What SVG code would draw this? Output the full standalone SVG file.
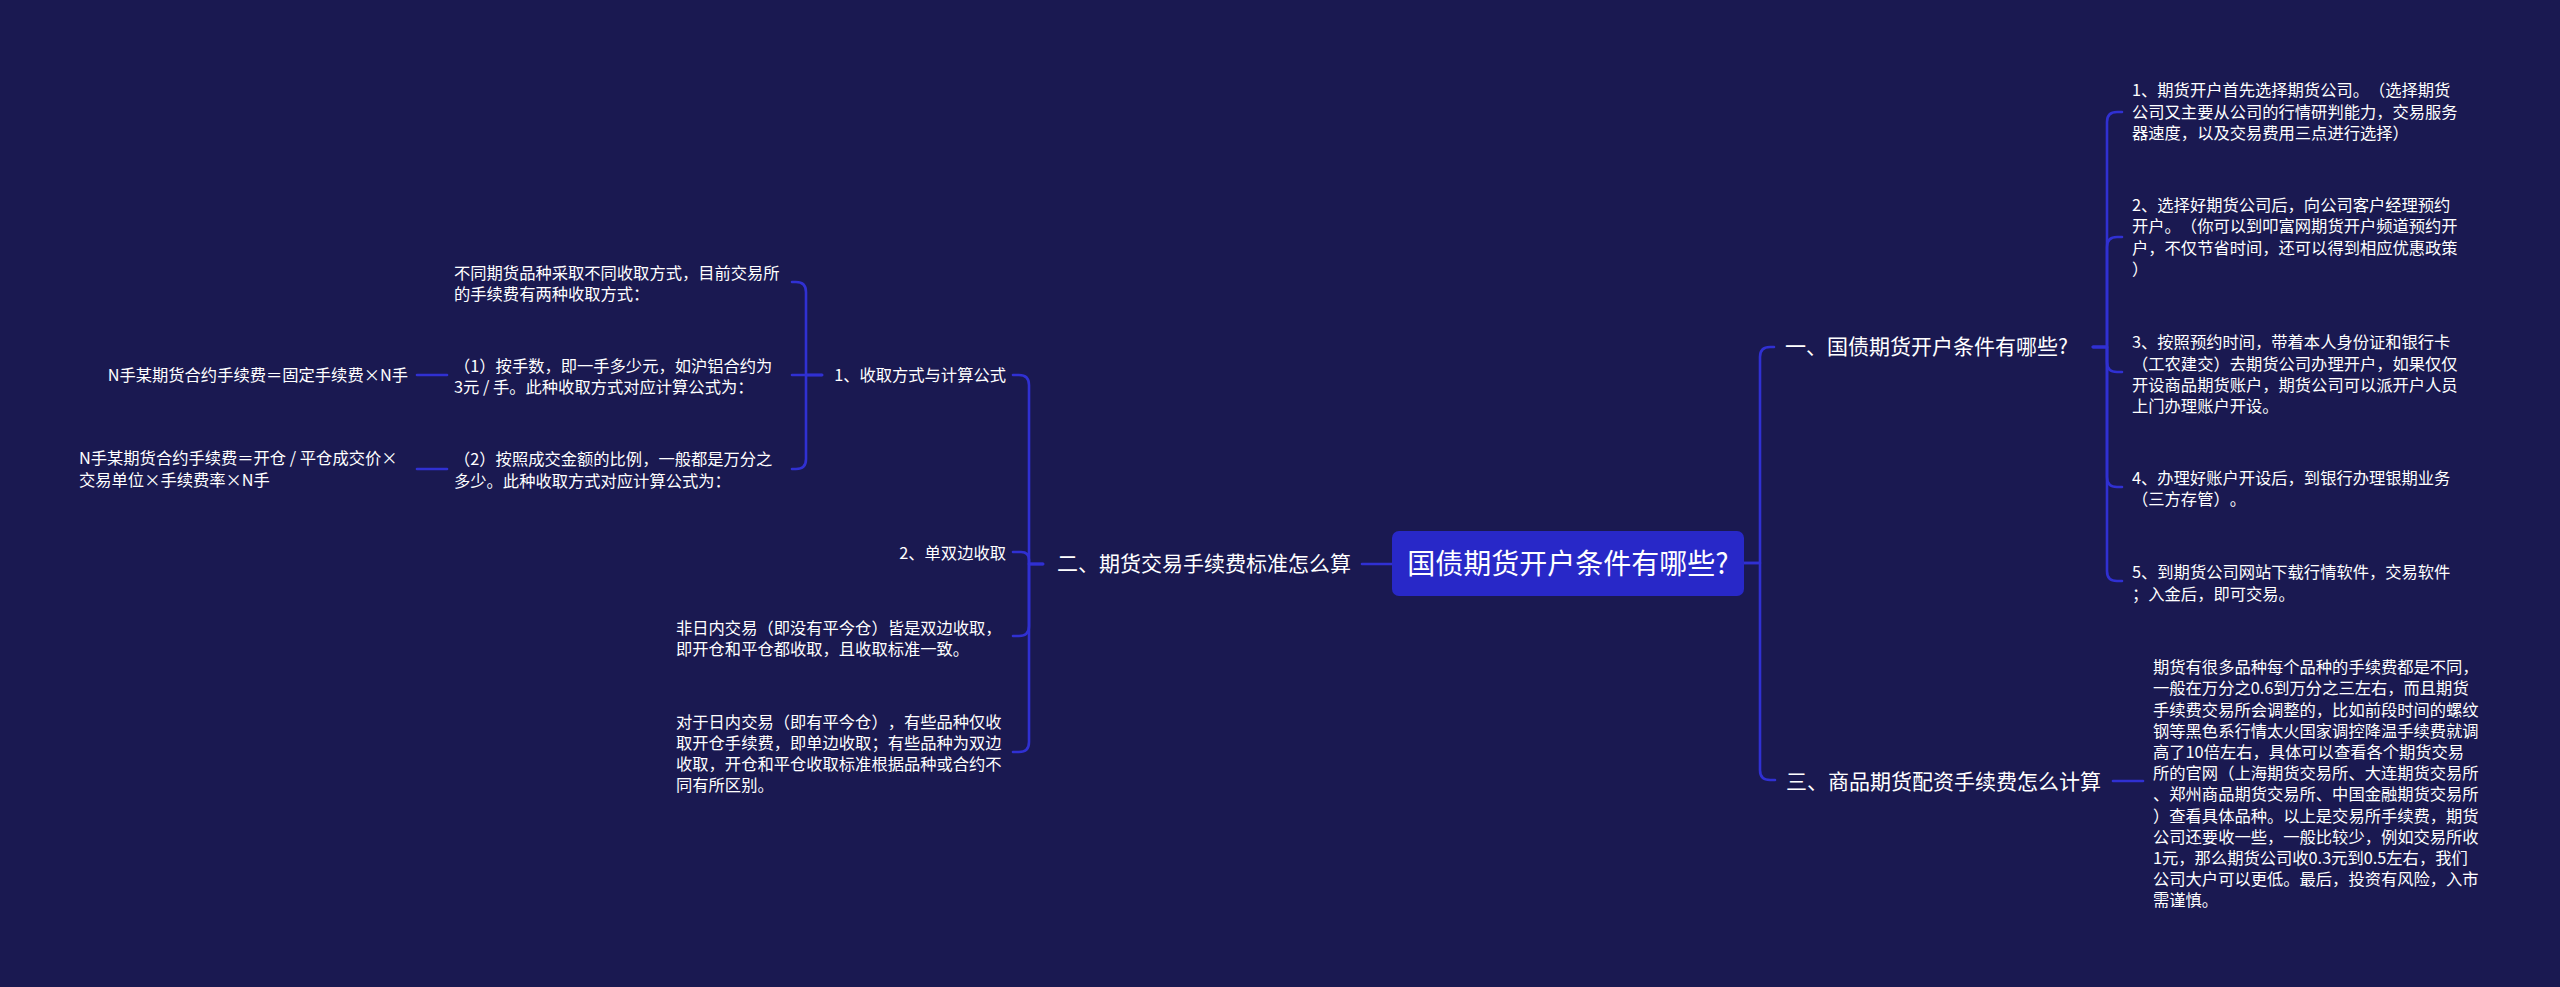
<svg xmlns="http://www.w3.org/2000/svg" width="2560" height="987" viewBox="0 0 2560 987">
<style>
.bg{fill:#1a1951}
.ln{fill:none;stroke:#3030d2;stroke-width:2.6;stroke-linecap:round;stroke-linejoin:round}
text{font-family:"Noto Sans CJK SC","Noto Sans",sans-serif;fill:#ffffff;text-spacing-trim:space-all}
.s{font-size:16.3px}
.m{font-size:21px}
.r{font-size:28px}
</style>
<rect class="bg" x="0" y="0" width="2560" height="987"/>
<g id="connectors">
<path class="ln" d="M1392,564 H1362"/>
<path class="ln" d="M1043,564 H1029 V385 Q1029,375 1019,375 H1013"/>
<path class="ln" d="M1043,564 H1029 V560 Q1029,552 1021,552 H1013"/>
<path class="ln" d="M1043,564 H1029 V626 Q1029,636 1019,636 H1013"/>
<path class="ln" d="M1043,564 H1029 V742 Q1029,752 1019,752 H1013"/>
<path class="ln" d="M822,375 H806 V292 Q806,282 796,282 H792"/>
<path class="ln" d="M822,375 H792"/>
<path class="ln" d="M822,375 H806 V459 Q806,469 796,469 H792"/>
<path class="ln" d="M447,375 H417"/>
<path class="ln" d="M447,469 H417"/>
<path class="ln" d="M1744,563 H1760 V357 Q1760,347 1770,347 H1774"/>
<path class="ln" d="M1744,563 H1760 V770 Q1760,780 1770,780 H1775"/>
<path class="ln" d="M2093,347 H2107 V122 Q2107,112 2117,112 H2122"/>
<path class="ln" d="M2093,347 H2107 V247 Q2107,237 2117,237 H2122"/>
<path class="ln" d="M2093,347 H2107 V362 Q2107,372 2117,372 H2122"/>
<path class="ln" d="M2093,347 H2107 V477 Q2107,487 2117,487 H2122"/>
<path class="ln" d="M2093,347 H2107 V571 Q2107,581 2117,581 H2122"/>
<path class="ln" d="M2113,781 H2143"/>
</g>
<g id="root">
<rect x="1392" y="531" width="352" height="65" rx="7" fill="#2828c8"/>
<text class="r" x="1568" y="574" text-anchor="middle">国债期货开户条件有哪些?</text>
</g>
<g id="n2">
<text class="m" x="1351" y="571" text-anchor="end">二、期货交易手续费标准怎么算</text>
</g>
<g id="n2-1">
<text class="s" x="1006" y="381" text-anchor="end">1、收取方式与计算公式</text>
</g>
<g id="n2-1-a">
<text class="s"><tspan x="454" y="279">不同期货品种采取不同收取方式，目前交易所</tspan><tspan x="454" y="300">的手续费有两种收取方式：</tspan></text>
</g>
<g id="n2-1-b">
<text class="s"><tspan x="454" y="372">（1）按手数，即一手多少元，如沪铝合约为</tspan><tspan x="454" y="393">3元 / 手。此种收取方式对应计算公式为：</tspan></text>
</g>
<g id="n2-1-b-f">
<text class="s" x="408" y="381" text-anchor="end">N手某期货合约手续费＝固定手续费×N手</text>
</g>
<g id="n2-1-c">
<text class="s"><tspan x="454" y="465">（2）按照成交金额的比例，一般都是万分之</tspan><tspan x="454" y="487">多少。此种收取方式对应计算公式为：</tspan></text>
</g>
<g id="n2-1-c-f">
<text class="s"><tspan x="79" y="464">N手某期货合约手续费＝开仓 / 平仓成交价×</tspan><tspan x="79" y="486">交易单位×手续费率×N手</tspan></text>
</g>
<g id="n2-2">
<text class="s" x="1006" y="559" text-anchor="end">2、单双边收取</text>
</g>
<g id="n2-3">
<text class="s"><tspan x="676" y="634">非日内交易（即没有平今仓）皆是双边收取，</tspan><tspan x="676" y="655">即开仓和平仓都收取，且收取标准一致。</tspan></text>
</g>
<g id="n2-4">
<text class="s"><tspan x="676" y="728">对于日内交易（即有平今仓），有些品种仅收</tspan><tspan x="676" y="749">取开仓手续费，即单边收取；有些品种为双边</tspan><tspan x="676" y="770">收取，开仓和平仓收取标准根据品种或合约不</tspan><tspan x="676" y="791">同有所区别。</tspan></text>
</g>
<g id="n1">
<text class="m" x="1785" y="354">一、国债期货开户条件有哪些?</text>
</g>
<g id="n1-1">
<text class="s"><tspan x="2132" y="96">1、期货开户首先选择期货公司。（选择期货</tspan><tspan x="2132" y="118">公司又主要从公司的行情研判能力，交易服务</tspan><tspan x="2132" y="139">器速度，以及交易费用三点进行选择）</tspan></text>
</g>
<g id="n1-2">
<text class="s"><tspan x="2132" y="211">2、选择好期货公司后，向公司客户经理预约</tspan><tspan x="2132" y="232">开户。（你可以到叩富网期货开户频道预约开</tspan><tspan x="2132" y="254">户，不仅节省时间，还可以得到相应优惠政策</tspan><tspan x="2132" y="275">）</tspan></text>
</g>
<g id="n1-3">
<text class="s"><tspan x="2132" y="348">3、按照预约时间，带着本人身份证和银行卡</tspan><tspan x="2132" y="370">（工农建交）去期货公司办理开户，如果仅仅</tspan><tspan x="2132" y="391">开设商品期货账户，期货公司可以派开户人员</tspan><tspan x="2132" y="412">上门办理账户开设。</tspan></text>
</g>
<g id="n1-4">
<text class="s"><tspan x="2132" y="484">4、办理好账户开设后，到银行办理银期业务</tspan><tspan x="2132" y="505">（三方存管）。</tspan></text>
</g>
<g id="n1-5">
<text class="s"><tspan x="2132" y="578">5、到期货公司网站下载行情软件，交易软件</tspan><tspan x="2132" y="600">；入金后，即可交易。</tspan></text>
</g>
<g id="n3">
<text class="m" x="1786" y="789">三、商品期货配资手续费怎么计算</text>
</g>
<g id="n3-1">
<text class="s"><tspan x="2153" y="673">期货有很多品种每个品种的手续费都是不同，</tspan><tspan x="2153" y="694">一般在万分之0.6到万分之三左右，而且期货</tspan><tspan x="2153" y="715.5">手续费交易所会调整的，比如前段时间的螺纹</tspan><tspan x="2153" y="737">钢等黑色系行情太火国家调控降温手续费就调</tspan><tspan x="2153" y="758">高了10倍左右，具体可以查看各个期货交易</tspan><tspan x="2153" y="779">所的官网（上海期货交易所、大连期货交易所</tspan><tspan x="2153" y="800">、郑州商品期货交易所、中国金融期货交易所</tspan><tspan x="2153" y="821.5">）查看具体品种。以上是交易所手续费，期货</tspan><tspan x="2153" y="843">公司还要收一些，一般比较少，例如交易所收</tspan><tspan x="2153" y="864">1元，那么期货公司收0.3元到0.5左右，我们</tspan><tspan x="2153" y="885">公司大户可以更低。最后，投资有风险，入市</tspan><tspan x="2153" y="906">需谨慎。</tspan></text>
</g>
</svg>
